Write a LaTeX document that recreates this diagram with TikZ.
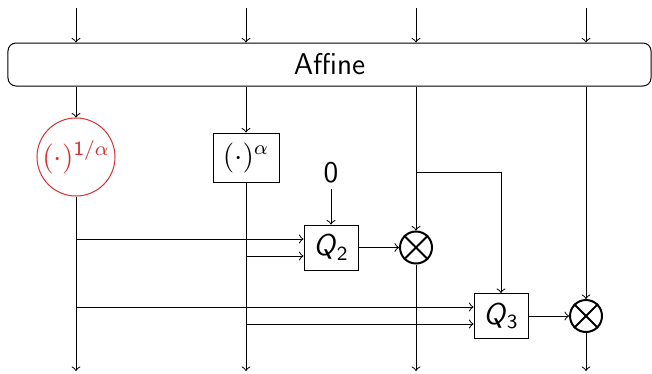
\documentclass[tikz,border=0pt]{standalone}
\usepackage{amsmath}
\usetikzlibrary{arrows.meta,positioning}
\renewcommand{\familydefault}{\sfdefault}
\definecolor{warm}{RGB}{214,48,49}
\tikzset{
  >=to,
  blk/.style={draw,inner sep=0pt,minimum width=21.6pt,minimum height=18pt},
  mul/.style={circle,draw,thick,inner sep=0pt,minimum size=12.8pt},
  pow/.style={circle,draw=#1,text=#1,inner sep=0pt,minimum size=31.2pt},
  pow/.default=warm,
}
\begin{document}
\begin{tikzpicture}[x=0.4pt,y=-0.4pt,font=\large]
  \useasboundingbox (0,0) rectangle (652,373);
  \node[draw,rounded corners=3.2pt,inner sep=0pt,minimum width=257.2pt,minimum height=17.2pt] (aff) at (329.5,64.5) {Affine};
  \foreach \x [count=\i] in {76,246,416,586}{
    \coordinate (in\i) at (\x,8);
    \coordinate (out\i) at (\x,371);
    \draw[->] (in\i) -- (in\i |- aff.north);
  }
  % nonlinear blocks
  \node[pow] (root) at (76,157) {$(\cdot)^{\mathsf{1}/\alpha}$};
  \node[blk,minimum width=26.4pt,minimum height=19.6pt] (pw) at (246,157.5) {$(\cdot)^{\alpha}$};
  \node[blk] (q2) at (331,247.5) {\textit{Q}\textsubscript{2}};
  \node[inner sep=2pt] (zero) at (331,173) {0};
  \node[mul] (m1) at (416,247.5) {};
  \node[blk] (q3) at (501,316) {\textit{Q}\textsubscript{3}};
  \node[mul] (m2) at (586,316) {};
  \foreach \m in {m1,m2}
    \draw[thick] (\m.north west) -- (\m.south east) (\m.north east) -- (\m.south west);
  % columns
  \draw[->] (aff.south -| root) -- (root);
  \draw[->] (aff.south -| pw) -- (pw);
  \draw[->] (aff.south -| m1) -- (m1);
  \draw[->] (aff.south -| m2) -- (m2);
  \draw[->] (root) -- (out1);
  \draw[->] (pw) -- (out2);
  \draw[->] (m1) -- (out3);
  \draw[->] (m2) -- (out4);
  % taps
  \coordinate (a1) at (76,239);
  \coordinate (a2) at (246,256);
  \coordinate (b1) at (76,307);
  \coordinate (b2) at (246,324);
  \coordinate (tap) at (416,172);
  \draw[->] (a1) -- (a1 -| q2.west);
  \draw[->] (a2) -- (a2 -| q2.west);
  \draw[->] (b1) -- (b1 -| q3.west);
  \draw[->] (b2) -- (b2 -| q3.west);
  \draw[->] (tap) -| (q3);
  \draw[->] (zero) -- (q2);
  \draw[->] (q2) -- (m1);
  \draw[->] (q3) -- (m2);
\end{tikzpicture}
\end{document}
